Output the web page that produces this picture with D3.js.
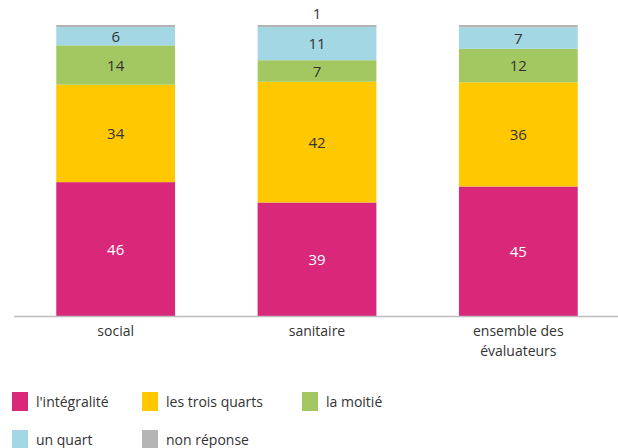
<!DOCTYPE html>
<html>
<head>
<meta charset="utf-8">
<script src="https://cdn.jsdelivr.net/npm/d3@7"></script>
<style>
  body { margin: 0; background: #fff; }
  text { font-family: "Open Sans", "Noto Sans", sans-serif; fill: #333; }
</style>
</head>
<body>
<script>
// data (percentages)
const categories = ["social", "sanitaire", "ensemble des évaluateurs"];
const seriesNames = ["l'intégralité", "les trois quarts", "la moitié", "un quart", "non réponse"];
const integralite = [46, 39, 44.5];
const troisQuarts = [33.5, 41.5, 35.8];
const moitie = [13.5, 7.4, 11.5];
const unQuart = [6.3, 11.4, 7.4];
const nonReponse = [0.7, 0.7, 0.8];
const nonReponseLabels = ["", "1", ""];

const colors = ["#d9277a", "#ffc800", "#a3c862", "#a3d7e3", "#b4b4b4"];

let width = 618, height = 448;
let svg = null;
let x, y;

const table = categories.map((c, i) => ({
  cat: c,
  "l'intégralité": integralite[i],
  "les trois quarts": troisQuarts[i],
  "la moitié": moitie[i],
  "un quart": unQuart[i],
  "non réponse": nonReponse[i]
}));

appendSvg("body");
setupScales();
appendBars();
appendAxis();
appendLegend();

function appendSvg(domElement) {
  svg = d3.select(domElement).append("svg")
    .attr("width", width)
    .attr("height", height);
}

function setupScales() {
  x = d3.scaleBand()
    .domain(categories)
    .range([15, 619])
    .paddingInner(0.41)
    .paddingOuter(0.205);

  y = d3.scaleLinear()
    .domain([0, 100])
    .range([316, 25]);
}

function appendBars() {
  const stack = d3.stack().keys(seriesNames)(table);

  const layers = svg.append("g")
    .selectAll("g")
    .data(stack)
    .enter().append("g")
      .attr("fill", (d, i) => colors[i]);

  layers.selectAll("rect")
    .data(d => d)
    .enter().append("rect")
      .attr("x", d => x(d.data.cat))
      .attr("y", d => y(d[1]))
      .attr("width", x.bandwidth())
      .attr("height", d => y(d[0]) - y(d[1]));

  // value labels
  stack.forEach((layer, li) => {
    const last = li === seriesNames.length - 1;
    layer.forEach((d, ci) => {
      const label = last ? nonReponseLabels[ci] : Math.round(d[1] - d[0]);
      if (label === "") return;
      svg.append("text")
        .attr("x", x(d.data.cat) + x.bandwidth() / 2)
        .attr("y", last ? y(d[1]) - 6 : y((d[0] + d[1]) / 2))
        .attr("dy", last ? 0 : "0.38em")
        .attr("text-anchor", "middle")
        .style("font-size", "15px")
        .style("fill", li === 0 ? "#fff" : "#333")
        .text(label);
    });
  });
}

function appendAxis() {
  svg.append("line")
    .attr("x1", 14).attr("x2", 618)
    .attr("y1", y(0) + 0.5).attr("y2", y(0) + 0.5)
    .attr("stroke", "#bdbdbd")
    .attr("stroke-width", 1.5);

  const labels = svg.append("g");
  categories.forEach(c => {
    const words = c === "ensemble des évaluateurs" ? ["ensemble des", "évaluateurs"] : [c];
    const t = labels.append("text")
      .attr("x", x(c) + x.bandwidth() / 2)
      .attr("y", 336)
      .attr("text-anchor", "middle")
      .style("font-size", "14px");
    words.forEach((w, i) => {
      t.append("tspan")
        .attr("x", x(c) + x.bandwidth() / 2)
        .attr("dy", i === 0 ? 0 : 20)
        .text(w);
    });
  });
}

function appendLegend() {
  const colX = [12, 142, 302];
  const legend = svg.append("g").attr("class", "legend");
  seriesNames.forEach((s, i) => {
    const col = i % 3, row = Math.floor(i / 3);
    const g = legend.append("g")
      .attr("transform", `translate(${colX[col]}, ${392 + row * 38})`);
    g.append("rect")
      .attr("width", 16).attr("height", 19)
      .attr("fill", colors[i]);
    g.append("text")
      .attr("x", 24).attr("y", 15)
      .style("font-size", "14px")
      .text(s);
  });
}
</script>
</body>
</html>
